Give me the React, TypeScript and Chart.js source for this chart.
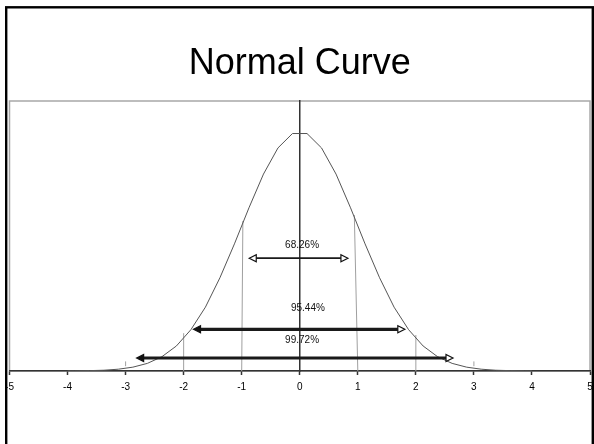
import React, { useEffect, useRef } from 'react';
import { Chart, registerables } from 'chart.js';

Chart.register(...registerables);

// ---- data ----
const curveX = [
  -4.0, -3.875, -3.625, -3.375, -3.125, -2.875, -2.625, -2.375, -2.125, -1.875, -1.625,
  -1.375, -1.125, -0.875, -0.625, -0.375, -0.125, 0.125, 0.375, 0.625, 0.875, 1.125,
  1.375, 1.625, 1.875, 2.125, 2.375, 2.625, 2.875, 3.125, 3.375, 3.625, 3.875, 4.0,
];
const curveY = [
  0.0001, 0.0002, 0.0006, 0.0013, 0.003, 0.0064, 0.0127, 0.0238, 0.0417, 0.0689, 0.1064,
  0.1554, 0.2119, 0.272, 0.3282, 0.3718, 0.3958, 0.3958, 0.3718, 0.3282, 0.272, 0.2119,
  0.1554, 0.1064, 0.0689, 0.0417, 0.0238, 0.0127, 0.0064, 0.003, 0.0013, 0.0006, 0.0002, 0.0001,
];
const xTickLabels = ['-5', '-4', '-3', '-2', '-1', '0', '1', '2', '3', '4', '5'];

// vertical guide lines at the sigma marks
const guideBottomX = [-3, -2, -1, 1, 2, 3];
const guideTopX = [-3, -2, -0.98, 0.94, 2, 3];
const guideBottomY = [0.008, 0, 0, 0, 0, 0.008];
const guideTopY = [0.016, 0.063, 0.25, 0.26, 0.06, 0.016];

// arrows
const arrowFromX = [-0.87, -1.83, -2.81];
const arrowToX = [0.83, 1.81, 2.64];
const arrowY = [0.188, 0.0695, 0.0217];

// percentage labels
const pctLabels = ['68.26%', '95.44%', '99.72%'];
const pctLabelX = [0.04, 0.14, 0.04];
const pctLabelY = [0.21, 0.105, 0.052];

const FONT = "'Liberation Sans', Arial, sans-serif";

function drawHead(ctx: CanvasRenderingContext2D, x: number, y: number, dir: number, filled: boolean) {
  const len = 7;
  const half = 3.5;
  ctx.beginPath();
  ctx.moveTo(x, y);
  ctx.lineTo(x - dir * len, y - half);
  ctx.lineTo(x - dir * len, y + half);
  ctx.closePath();
  ctx.fillStyle = filled ? '#111' : '#fff';
  ctx.fill();
  ctx.lineWidth = 1.2;
  ctx.strokeStyle = '#111';
  ctx.stroke();
}

const decor = {
  id: 'decor',
  beforeDraw(chart: any) {
    const { ctx, chartArea: a } = chart;
    ctx.save();
    ctx.fillStyle = '#fff';
    ctx.fillRect(0, 0, chart.width, chart.height);
    ctx.strokeStyle = '#a8a8a8';
    ctx.lineWidth = 1.5;
    ctx.strokeRect(a.left, a.top, a.right - a.left, a.bottom - a.top);
    ctx.restore();
  },
  beforeDatasetsDraw(chart: any) {
    const { ctx } = chart;
    const xs = chart.scales.x;
    const ys = chart.scales.y;
    ctx.save();
    ctx.strokeStyle = '#a0a0a0';
    ctx.lineWidth = 1;
    for (let i = 0; i < guideBottomX.length; i++) {
      ctx.beginPath();
      ctx.moveTo(xs.getPixelForValue(guideBottomX[i]), ys.getPixelForValue(guideBottomY[i]));
      ctx.lineTo(xs.getPixelForValue(guideTopX[i]), ys.getPixelForValue(guideTopY[i]));
      ctx.stroke();
    }
    ctx.restore();
  },
  afterDatasetsDraw(chart: any) {
    const { ctx } = chart;
    const xs = chart.scales.x;
    const ys = chart.scales.y;
    const widths = [1.8, 3.2, 2.8];
    const leftFilled = [false, true, true];
    ctx.save();
    for (let i = 0; i < arrowY.length; i++) {
      const x1 = xs.getPixelForValue(arrowFromX[i]);
      const x2 = xs.getPixelForValue(arrowToX[i]);
      const y = ys.getPixelForValue(arrowY[i]);
      ctx.strokeStyle = '#1a1a1a';
      ctx.lineWidth = widths[i];
      ctx.beginPath();
      ctx.moveTo(x1 + 5, y);
      ctx.lineTo(x2 - 5, y);
      ctx.stroke();
      drawHead(ctx, x1, y, -1, leftFilled[i]);
      drawHead(ctx, x2, y, 1, false);
    }
    ctx.fillStyle = '#111';
    ctx.font = `10px ${FONT}`;
    ctx.textAlign = 'center';
    ctx.textBaseline = 'middle';
    for (let i = 0; i < pctLabels.length; i++) {
      ctx.fillText(pctLabels[i], xs.getPixelForValue(pctLabelX[i]), ys.getPixelForValue(pctLabelY[i]));
    }
    ctx.restore();
  },
  afterDraw(chart: any) {
    const { ctx } = chart;
    ctx.save();
    ctx.strokeStyle = '#000';
    ctx.lineWidth = 2.4;
    ctx.strokeRect(6.2, 7.3, 586.6, 480);
    ctx.restore();
  },
};

export default function App() {
  const ref = useRef<HTMLCanvasElement | null>(null);

  useEffect(() => {
    if (!ref.current) return;
    const chart = new Chart(ref.current, {
      type: 'scatter',
      data: {
        datasets: [
          {
            data: curveX.map((x, i) => ({ x, y: curveY[i] })),
            showLine: true,
            borderColor: '#555555',
            borderWidth: 1,
            pointRadius: 0,
            tension: 0,
            fill: false,
          },
        ],
      },
      options: {
        animation: false,
        responsive: false,
        devicePixelRatio: 1,
        events: [],
        layout: { padding: { left: 9.5, right: 4, top: 0, bottom: 43 } },
        plugins: {
          legend: { display: false },
          tooltip: { enabled: false },
          title: {
            display: true,
            text: 'Normal Curve',
            color: '#000',
            font: { family: FONT, size: 36, weight: 'normal', lineHeight: 1.2 },
            padding: { top: 42, bottom: 15.8 },
          },
        },
        scales: {
          x: {
            type: 'linear',
            position: 'bottom',
            min: -5,
            max: 5,
            ticks: {
              stepSize: 1,
              autoSkip: false,
              maxRotation: 0,
              padding: 6,
              color: '#000',
              font: { family: FONT, size: 10 },
              callback: (_v: any, i: number) => xTickLabels[i],
            },
            grid: {
              drawOnChartArea: false,
              drawTicks: true,
              tickLength: 4,
              tickColor: '#333',
              tickWidth: 1.5,
            },
            border: { display: true, color: '#333', width: 1.5 },
            afterFit: (s: any) => {
              s.height = 30;
              s.paddingLeft = 0;
              s.paddingRight = 0;
            },
          },
          y: {
            type: 'linear',
            position: { x: 0 },
            min: 0,
            max: 0.45,
            ticks: { display: false },
            grid: { display: false },
            border: { display: true, color: '#333', width: 1.5 },
            afterFit: (s: any) => {
              s.paddingTop = 0;
              s.paddingBottom = 0;
            },
          },
        },
      } as any,
      plugins: [decor],
    });
    return () => chart.destroy();
  }, []);

  return (
    <div style={{ position: 'fixed', left: 0, top: 0, width: 594, height: 444, background: '#fff' }}>
      <canvas ref={ref} width={594} height={444} style={{ display: 'block', width: 594, height: 444 }} />
    </div>
  );
}
